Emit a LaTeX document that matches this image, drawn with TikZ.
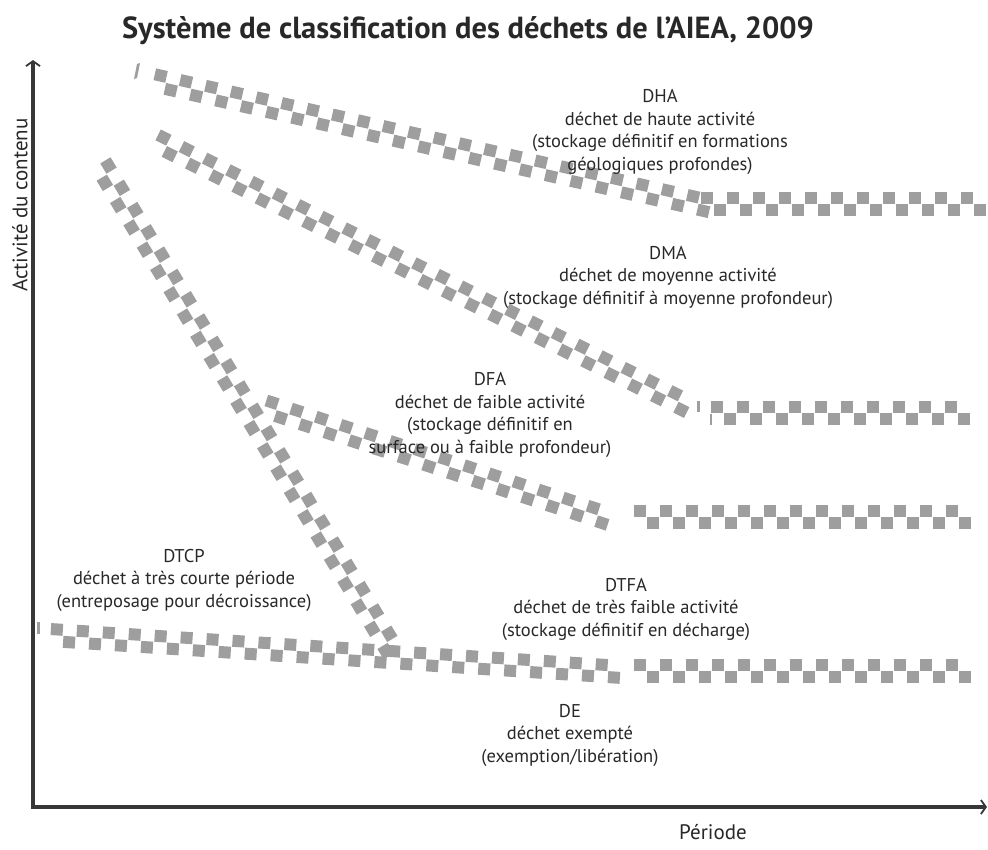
\documentclass[tikz,border=0pt]{standalone}
\usepackage{fontspec}
\setmainfont{PT Sans}
\usetikzlibrary{arrows.meta}
\definecolor{sqgray}{RGB}{158,158,158}
\definecolor{ink}{RGB}{40,40,40}
\definecolor{axisgray}{RGB}{55,55,55}
\newcommand\checkband[4]{%
  \pgfmathsetmacro\bdx{#3-#1}%
  \pgfmathsetmacro\bdy{#2-#4}%
  \pgfmathsetmacro\blen{veclen(\bdx,\bdy)}%
  \pgfmathsetmacro\bang{atan2(\bdy,\bdx)}%
  \pgfmathtruncatemacro\bn{\blen/26+0.5-1}%
  \begin{scope}[shift={(#1,-#2)}, rotate=\bang]
    \foreach \k in {0,...,\bn}{%
      \fill[sqgray] ({26*\k+0.5},0) rectangle ++(12,12);
      \fill[sqgray] ({26*\k+13.5},-12) rectangle ++(12,12);
    }
  \end{scope}}
\begin{document}
\begin{tikzpicture}[x=1pt,y=1pt,
  lbl/.style={align=center, text=ink, font=\fontsize{18.5}{22.5}\selectfont, inner sep=0pt},
  axlbl/.style={text=ink, font=\fontsize{21}{24}\selectfont, inner sep=0pt},
  axisline/.style={draw=axisgray, line width=3.2pt, {Straight Barb[length=5pt,width=14pt,line width=1.8pt]}-{Straight Barb[length=5pt,width=14pt,line width=1.8pt]}}]
\useasboundingbox (0,0) rectangle (988,-849);
% title
\node[text=ink, font=\fontsize{30.5}{33}\selectfont\bfseries, inner sep=0pt] (title) at (468,-31) {Système de classification des déchets de l’AIEA, 2009};
% axes
\coordinate (ytop) at (33,-60);
\coordinate (orig) at (33,-807);
\coordinate (xend) at (987,-807);
\draw[axisline] (ytop) -- (orig) -- (xend);
\node[axlbl, rotate=90] (ylabel) at (20,-205) {Activité du contenu};
\node[axlbl] (xlabel) at (713,-832) {Période};
% bands
\checkband{153}{80}{700}{204}
\checkband{700}{204}{988}{204}
\checkband{155}{140}{695}{410}
\checkband{710}{413}{972}{413}
\checkband{100}{163}{392}{650}
\checkband{264}{406}{615}{521}
\checkband{633}{517}{972}{517}
\checkband{50}{635}{622}{672}
\checkband{633}{671}{972}{671}
% small slivers
\fill[sqgray] (137,-64) -- (140,-63) -- (137,-78) -- (134,-79) -- cycle;
\fill[sqgray] (37,-622) rectangle (40,-634);
\fill[sqgray] (697,-401) rectangle (700,-412);
\fill[sqgray] (710,-414) rectangle (712,-425);
% labels
\node[lbl] (dha) at (660,-132) {DHA\\déchet de haute activité\\(stockage définitif en formations\\géologiques profondes)};
\node[lbl] (dma) at (668,-277) {DMA\\déchet de moyenne activité\\(stockage définitif à moyenne profondeur)};
\node[lbl] (dfa) at (490,-415) {DFA\\déchet de faible activité\\(stockage définitif en\\surface ou à faible profondeur)};
\node[lbl] (dtcp) at (184,-580) {DTCP\\déchet à très courte période\\(entreposage pour décroissance)};
\node[lbl] (dtfa) at (626,-609) {DTFA\\déchet de très faible activité\\(stockage définitif en décharge)};
\node[lbl] (de) at (570,-735) {DE\\déchet exempté\\(exemption/libération)};
\end{tikzpicture}
\end{document}
